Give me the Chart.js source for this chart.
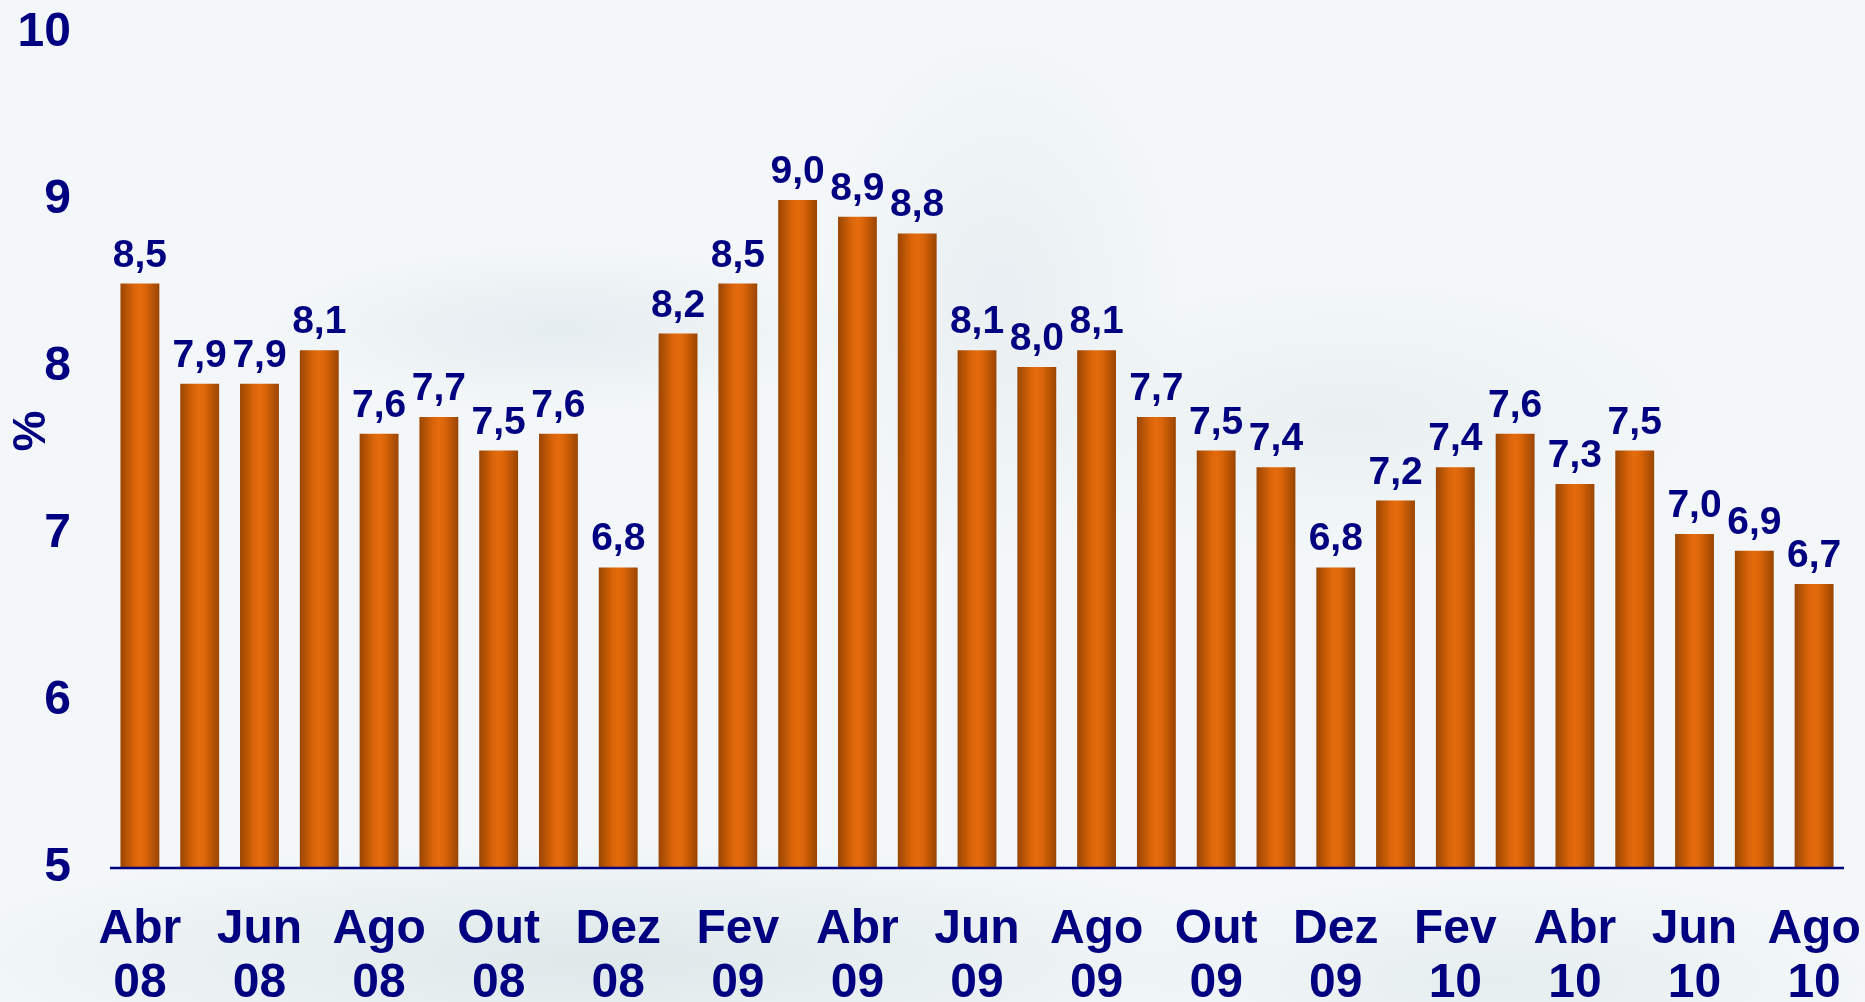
<!DOCTYPE html>
<html>
<head>
<meta charset="utf-8">
<script src="https://cdn.jsdelivr.net/npm/chart.js@4.4.1/dist/chart.umd.min.js"></script>
<style>
  html, body { margin: 0; padding: 0; overflow: hidden; }
  body {
    width: 1865px; height: 1002px;
    background:
      radial-gradient(ellipse 420px 120px at 560px 330px, rgba(205,218,222,0.35), rgba(205,218,222,0) 70%),
      radial-gradient(ellipse 260px 380px at 1000px 300px, rgba(210,220,225,0.3), rgba(210,220,225,0) 70%),
      radial-gradient(ellipse 500px 200px at 1350px 420px, rgba(212,224,226,0.3), rgba(212,224,226,0) 70%),
      radial-gradient(ellipse 900px 160px at 600px 960px, rgba(196,214,214,0.45), rgba(196,214,214,0) 75%),
      radial-gradient(ellipse 500px 140px at 1500px 980px, rgba(205,220,222,0.35), rgba(205,220,222,0) 75%),
      #f3f7f9;
  }
  #wrap { position: absolute; left: 0; top: 0; width: 1865px; height: 1002px; }
</style>
</head>
<body>
<div id="wrap"><canvas id="chart"></canvas></div>
<script>
const categories = ['Abr 08','Mai 08','Jun 08','Jul 08','Ago 08','Set 08','Out 08','Nov 08','Dez 08',
  'Jan 09','Fev 09','Mar 09','Abr 09','Mai 09','Jun 09','Jul 09','Ago 09','Set 09','Out 09','Nov 09','Dez 09',
  'Jan 10','Fev 10','Mar 10','Abr 10','Mai 10','Jun 10','Jul 10','Ago 10'];
const rates = [8.5, 7.9, 7.9, 8.1, 7.6, 7.7, 7.5, 7.6, 6.8,
  8.2, 8.5, 9.0, 8.9, 8.8, 8.1, 8.0, 8.1, 7.7, 7.5, 7.4, 6.8,
  7.2, 7.4, 7.6, 7.3, 7.5, 7.0, 6.9, 6.7];
const yMin = 5;
const yMax = 10;
const yLabel = '%';

const navy = '#000080';
const fontFamily = '"Liberation Sans", Arial, sans-serif';
const barPct = 0.65;

// horizontal gradient so each bar looks like a cylinder
function barGradient(ctx) {
    const chart = ctx.chart;
    const area = chart.chartArea;
    if (!area || ctx.type !== 'data') return '#dc660a';
    const x = chart.scales.x.getPixelForValue(ctx.dataIndex);
    const w = area.width / categories.length * barPct;
    const g = chart.ctx.createLinearGradient(x - w / 2, 0, x + w / 2, 0);
    g.addColorStop(0, '#9a4600');
    g.addColorStop(0.35, '#d9640a');
    g.addColorStop(0.5, '#e56c0c');
    g.addColorStop(0.65, '#d9640a');
    g.addColorStop(1, '#9a4500');
    return g;
}

const valueLabels = {
    id: 'valueLabels',
    afterDatasetsDraw(chart) {
        const ctx = chart.ctx;
        const meta = chart.getDatasetMeta(0);
        ctx.save();
        ctx.fillStyle = navy;
        ctx.font = 'bold 39px ' + fontFamily;
        ctx.textAlign = 'center';
        ctx.textBaseline = 'alphabetic';
        meta.data.forEach((bar, i) => {
            ctx.fillText(rates[i].toFixed(1).replace('.', ','), bar.x, bar.y - 17);
        });
        // base line on top of the bars
        const y0 = chart.scales.y.getPixelForValue(yMin);
        ctx.strokeStyle = navy;
        ctx.lineWidth = 2.5;
        ctx.beginPath();
        ctx.moveTo(chart.chartArea.left, y0);
        ctx.lineTo(chart.chartArea.right, y0);
        ctx.stroke();
        // axis title
        ctx.translate(32, 431);
        ctx.rotate(-Math.PI / 2);
        ctx.font = 'bold 46px ' + fontFamily;
        ctx.textBaseline = 'middle';
        ctx.fillText(yLabel, 0, 0);
        ctx.restore();
    }
};

new Chart(document.getElementById('chart'), {
    type: 'bar',
    data: {
        labels: categories,
        datasets: [{
            data: rates,
            backgroundColor: barGradient,
            borderWidth: 0,
            barPercentage: barPct,
            categoryPercentage: 1
        }]
    },
    options: {
        responsive: true,
        maintainAspectRatio: false,
        animation: false,
        layout: { padding: { top: 33, right: 21, left: 0, bottom: 0 } },
        plugins: {
            legend: { display: false },
            tooltip: { enabled: false }
        },
        scales: {
            x: {
                grid: { display: false, drawTicks: false },
                border: { display: false },
                afterFit: scale => {
                    scale.height = 134;
                    scale.paddingLeft = 0;
                    scale.paddingRight = 0;
                },
                ticks: {
                    autoSkip: false,
                    maxRotation: 0,
                    padding: 35,
                    color: navy,
                    font: { family: fontFamily, size: 48, weight: 'bold', lineHeight: 1.125 },
                    callback: (val, i) => i % 2 === 0 ? categories[i].split(' ') : ''
                }
            },
            y: {
                min: yMin,
                max: yMax,
                grid: { display: false, drawTicks: false },
                border: { display: false },
                afterFit: scale => {
                    scale.width = 110;
                    scale.paddingTop = 0;
                    scale.paddingBottom = 0;
                },
                ticks: {
                    stepSize: 1,
                    padding: 39,
                    color: navy,
                    font: { family: fontFamily, size: 48, weight: 'bold' }
                }
            }
        }
    },
    plugins: [valueLabels]
});
</script>
</body>
</html>
